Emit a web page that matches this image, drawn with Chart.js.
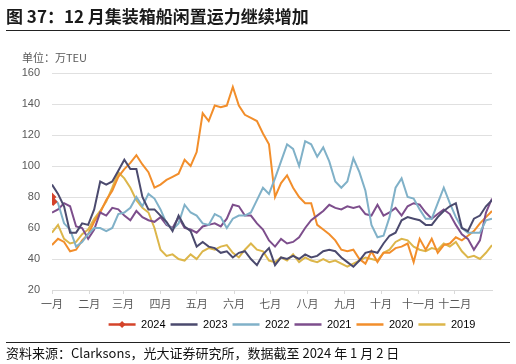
<!DOCTYPE html>
<html>
<head>
<meta charset="utf-8">
<script src="https://cdn.jsdelivr.net/npm/chart.js@4"></script>
<style>
  body { margin: 0; background: #fff; }
  #wrap { position: relative; width: 516px; height: 364px; overflow: hidden; font-family: "Noto Sans CJK SC", sans-serif; }
  #title { position: absolute; left: 6px; top: 3px; font-size: 17px; font-weight: bold; color: #1a1a1a; white-space: nowrap; }
  #topline { position: absolute; left: 6px; top: 30px; width: 504px; height: 0; border-top: 1.3px solid #222; }
  #unit { position: absolute; left: 22px; top: 49px; font-size: 11px; color: #595959; white-space: nowrap; }
  #botline { position: absolute; left: 6px; top: 342px; width: 504px; height: 0; border-top: 1.3px solid #222; }
  #source { position: absolute; left: 6px; top: 343px; font-size: 13px; color: #111; white-space: nowrap; }
  canvas { position: absolute; left: 0; top: 0; }
</style>
</head>
<body>
<div id="wrap">
  <canvas id="myChart" width="516" height="364"></canvas>
  <div id="title">图 37：12 月集装箱船闲置运力继续增加</div>
  <div id="topline"></div>
  <div id="unit">单位：万TEU</div>
  <div id="botline"></div>
  <div id="source">资料来源：Clarksons，光大证券研究所，数据截至 2024 年 1 月 2 日</div>
</div>
<script>
// month ticks (day of year where each month starts)
const monthLabels = ['一月', '二月', '三月', '四月', '五月', '六月', '七月', '八月', '九月', '十月', '十一月', '十二月'];
const monthStart = [0, 31, 59, 90, 120, 151, 181, 212, 243, 273, 304, 334];

// values read every 5 days, 万TEU
const dayStep = 5;
const s2024 = [80, 77]; // daily: 1 Jan, 2 Jan
const s2023 = [88, 82, 74, 57, 57, 63, 62, 72, 90, 88, 90, 97, 104, 98, 98, 80, 72, 72, 68, 64,
  58, 68, 61, 58, 48, 51, 48, 47, 44, 45, 41, 44, 45, 40, 36, 43, 47, 36, 41, 40,
  42, 40, 43, 41, 42, 45, 46, 45, 41, 38, 35, 39, 44, 45, 44, 50, 55, 57, 65, 67,
  66, 65, 62, 62, 67, 71, 74, 76, 60, 58, 66, 68, 74, 78];
const s2022 = [80, 76, 63, 59, 48, 51, 56, 60, 60, 58, 60, 69, 70, 73, 80, 74, 82, 79, 72, 63,
  59, 63, 75, 70, 68, 63, 62, 69, 67, 60, 66, 68, 68, 70, 78, 86, 82, 92, 103, 114,
  111, 100, 116, 114, 106, 112, 103, 90, 86, 90, 105, 96, 84, 62, 54, 55, 67, 86, 92, 80,
  79, 72, 66, 66, 76, 86, 76, 67, 60, 57, 57, 57, 65, 66];
const s2021 = [70, 72, 76, 74, 61, 60, 53, 59, 70, 68, 73, 72, 68, 65, 71, 67, 65, 64, 67, 62,
  60, 67, 60, 59, 57, 61, 62, 63, 61, 66, 75, 74, 68, 68, 63, 59, 52, 48, 53, 50,
  51, 54, 60, 65, 68, 71, 75, 73, 72, 74, 73, 74, 69, 68, 75, 68, 70, 73, 68, 74,
  76, 75, 70, 66, 69, 72, 69, 62, 56, 53, 46, 52, 70, 79];
const s2020 = [49, 53, 51, 45, 46, 52, 56, 64, 70, 78, 84, 93, 98, 102, 107, 101, 96, 86, 88, 91,
  93, 95, 104, 100, 109, 134, 129, 139, 138, 139, 151, 139, 133, 131, 129, 121, 114, 80, 89, 94,
  86, 80, 76, 76, 62, 59, 56, 52, 46, 45, 46, 40, 37, 45, 38, 44, 44, 47, 48, 50,
  38, 53, 46, 53, 44, 49, 50, 54, 52, 55, 58, 63, 67, 71];
const s2019 = [57, 62, 53, 50, 51, 56, 59, 66, 71, 77, 86, 96, 92, 86, 78, 73, 70, 60, 46, 42,
  43, 40, 39, 43, 40, 45, 47, 46, 48, 49, 44, 41, 46, 50, 46, 45, 39, 38, 41, 39,
  43, 38, 41, 39, 38, 40, 38, 39, 37, 35, 37, 39, 41, 40, 39, 44, 46, 51, 53, 52,
  48, 46, 45, 47, 46, 50, 48, 51, 45, 41, 42, 40, 44, 49];

const seriesNames = ['2024', '2023', '2022', '2021', '2020', '2019'];
const seriesColors = ['#d4432a', '#4b4a6e', '#80b1c8', '#7d4e8c', '#f28e2b', '#dcb64a'];

function toPoints(arr, step) {
  return arr.map((v, i) => ({ x: i * step, y: v }));
}

const allSeries = [toPoints(s2024, 1), toPoints(s2023, dayStep), toPoints(s2022, dayStep),
  toPoints(s2021, dayStep), toPoints(s2020, dayStep), toPoints(s2019, dayStep)];

const datasets = allSeries.map((pts, i) => ({
  label: seriesNames[i],
  data: pts,
  borderColor: seriesColors[i],
  backgroundColor: seriesColors[i],
  borderWidth: 2,
  pointRadius: i === 0 ? 3 : 0,
  pointStyle: i === 0 ? 'rectRot' : 'circle',
  tension: 0
}));

// legend sits right of centre in the original
const legendShift = 46;

const legendTweak = {
  id: 'legendTweak',
  afterLayout(chart) {
    chart.legend.left += legendShift;
    chart.legend.right += legendShift;
  },
  afterDraw(chart) {
    // small diamond on the 2024 legend line
    const boxes = chart.legend.legendHitBoxes;
    if (!boxes || !boxes.length) return;
    const b = boxes[0];
    const cx = b.left + 27 / 2;
    const cy = b.top + b.height / 2;
    const ctx = chart.ctx;
    ctx.save();
    ctx.fillStyle = seriesColors[0];
    ctx.beginPath();
    ctx.moveTo(cx, cy - 3.5);
    ctx.lineTo(cx + 3.5, cy);
    ctx.lineTo(cx, cy + 3.5);
    ctx.lineTo(cx - 3.5, cy);
    ctx.closePath();
    ctx.fill();
    ctx.restore();
  }
};

Chart.defaults.font.family = '"Liberation Sans", "Noto Sans CJK SC", sans-serif';
Chart.defaults.color = '#595959';

const ctx = document.getElementById('myChart').getContext('2d');
new Chart(ctx, {
  type: 'line',
  data: { datasets: datasets },
  options: {
    responsive: false,
    animation: false,
    layout: { padding: { top: 73, right: 24, bottom: 24, left: 0 } },
    plugins: {
      tooltip: { enabled: false },
      legend: {
        position: 'bottom',
        labels: {
          usePointStyle: true,
          pointStyle: 'line',
          pointStyleWidth: 27,
          padding: 5,
          font: { size: 11 },
          color: '#595959',
          generateLabels(chart) {
            return chart.data.datasets.map((ds, i) => ({
              text: ds.label,
              strokeStyle: ds.borderColor,
              fillStyle: ds.borderColor,
              lineWidth: 2.5,
              pointStyle: 'line',
              hidden: false,
              datasetIndex: i
            }));
          }
        }
      }
    },
    scales: {
      x: {
        type: 'linear',
        min: 0,
        max: 365,
        afterBuildTicks: (scale) => { scale.ticks = monthStart.map(v => ({ value: v })); },
        afterFit: (scale) => { scale.height = 24; },
        ticks: {
          autoSkip: false,
          maxRotation: 0,
          padding: 4,
          font: { size: 11 },
          callback: (v) => monthLabels[monthStart.indexOf(v)]
        },
        grid: { drawOnChartArea: false, color: '#d9d9d9', tickLength: 4 },
        border: { color: '#d9d9d9' }
      },
      y: {
        min: 20,
        max: 160,
        afterFit: (scale) => { scale.width = 52; },
        ticks: { stepSize: 20, padding: 12, font: { size: 11 } },
        grid: { color: '#e0e0e0', drawTicks: false },
        border: { display: false }
      }
    }
  },
  plugins: [legendTweak]
});
</script>
</body>
</html>
